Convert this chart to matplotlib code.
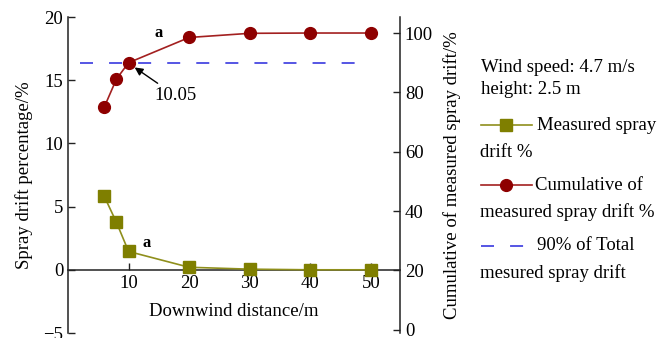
import matplotlib
matplotlib.use("Agg")
import matplotlib.pyplot as plt
from matplotlib.lines import Line2D

plt.rcParams["font.family"] = ["Liberation Serif", "DejaVu Serif"]
plt.rcParams["font.size"] = 13.5

# ---- data ----
distance = [6, 8, 10, 20, 30, 40, 50]
measured_drift = [5.8, 3.75, 1.45, 0.2, 0.05, 0.0, 0.0]
cumulative_drift = [75.1, 84.5, 90.0, 98.5, 99.9, 100.0, 100.0]
ninety_pct = 90.0
ninety_span = [2, 48]
x_ticks = [10, 20, 30, 40, 50]
left_ticks = [-5, 0, 5, 10, 15, 20]
right_ticks = [0, 20, 40, 60, 80, 100]

OLIVE_LINE = "#8f8f1c"
OLIVE_MARK = "#7f7f00"
RED_LINE = "#a32020"
RED_MARK = "#8e0000"
BLUE = "#4848e2"

W, H = 670, 338
fig = plt.figure(figsize=(W / 100, H / 100), dpi=100)
ax = fig.add_axes([68 / W, 1 - 333 / H, (400 - 68) / W, (333 - 17) / H])
ax2 = ax.twinx()

# ---- left axis: measured spray drift ----
ax.plot(distance, measured_drift, color=OLIVE_LINE, lw=1.2, marker="s",
        ms=8, mfc=OLIVE_MARK, mec=OLIVE_MARK, zorder=3)
ax.set_xlim(0, 54.8)
ax.set_ylim(-5, 20)
ax.set_xticks(x_ticks)
ax.set_yticks(left_ticks)
ax.spines["top"].set_visible(False)
ax.spines["right"].set_visible(False)
ax.spines["bottom"].set_position(("data", 0))
ax.tick_params(direction="in", length=5, width=1, color="#222")
ax.set_ylabel("Spray drift percentage/%", labelpad=7.5)
ax.set_xlabel("Downwind distance/m")
ax.xaxis.set_label_coords(0.5, 0.095)
ax.text(13.0, 2.1, "a", fontweight="bold", ha="center", va="center", fontsize=12)
ax.text(15.0, 18.7, "a", fontweight="bold", ha="center", va="center", fontsize=12)

# ---- right axis: cumulative ----
ax2.plot(ninety_span, [ninety_pct, ninety_pct], color=BLUE, lw=1.3,
         linestyle=(0, (7.2, 8.9)), zorder=2)
ax2.plot(distance, cumulative_drift, color=RED_LINE, lw=1.2, marker="o",
         ms=8.5, mfc=RED_MARK, mec=RED_MARK, zorder=3)
ax2.set_ylim(-1.1, 105.4)
ax2.set_yticks(right_ticks)
for s in ("top", "bottom", "left"):
    ax2.spines[s].set_visible(False)
ax2.tick_params(direction="in", length=5, width=1, color="#222")
ax2.set_ylabel("Cumulative of measured spray drift/%", labelpad=7.5)
ax2.annotate("10.05", xy=(11.0, 88.4), xytext=(14.2, 79.0),
             ha="left", va="center",
             arrowprops=dict(arrowstyle="-|>", color="black", lw=1,
                             mutation_scale=12, shrinkA=1, shrinkB=0))

for a in (ax, ax2):
    for s in a.spines.values():
        s.set_linewidth(1.1)
        s.set_color("#222")


# ---- custom legend block on the right ----
def fx(px):
    return px / W


def fy(py):
    return 1 - py / H


fig.text(fx(481), fy(67), "Wind speed: 4.7 m/s", va="center")
fig.text(fx(481), fy(89), "height: 2.5 m", va="center")

fig.add_artist(Line2D([fx(481), fx(532)], [fy(125), fy(125)],
                      color=OLIVE_LINE, lw=1.2, transform=fig.transFigure))
fig.add_artist(Line2D([fx(506)], [fy(125)], marker="s", ms=8,
                      color=OLIVE_MARK, transform=fig.transFigure))
fig.text(fx(537), fy(125), "Measured spray", va="center")
fig.text(fx(480), fy(152), "drift %", va="center")

fig.add_artist(Line2D([fx(481), fx(532)], [fy(185), fy(185)],
                      color=RED_LINE, lw=1.2, transform=fig.transFigure))
fig.add_artist(Line2D([fx(506)], [fy(185)], marker="o", ms=8.5,
                      color=RED_MARK, transform=fig.transFigure))
fig.text(fx(535), fy(185), "Cumulative of", va="center")
fig.text(fx(480), fy(212), "measured spray drift %", va="center")

fig.add_artist(Line2D([fx(481), fx(526)], [fy(246), fy(246)],
                      color=BLUE, lw=1.3, linestyle=(0, (7.2, 8.9)),
                      transform=fig.transFigure))
fig.text(fx(537), fy(246), "90% of Total", va="center")
fig.text(fx(480), fy(273), "mesured spray drift", va="center")

fig.savefig("out.png", dpi=100)
